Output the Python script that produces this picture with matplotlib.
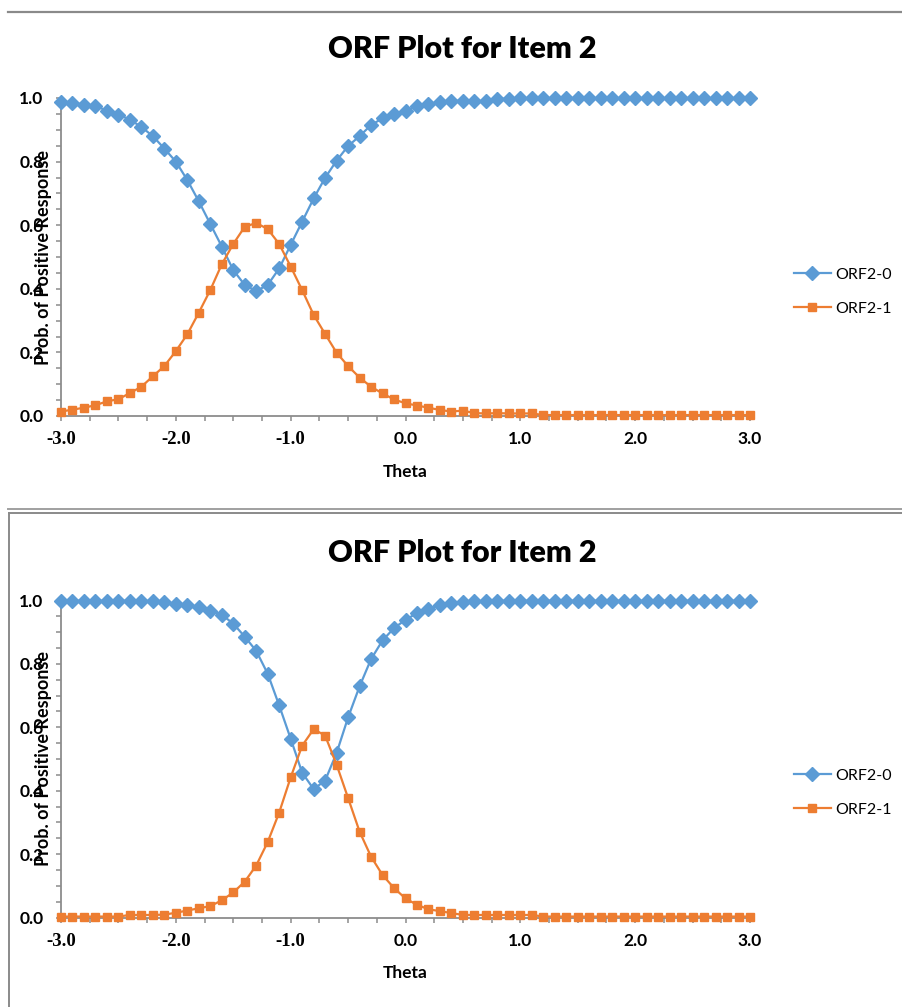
import matplotlib
matplotlib.use("Agg")
import matplotlib.pyplot as plt
from matplotlib.lines import Line2D
from matplotlib.ticker import MultipleLocator

# ---------------- data ----------------
theta = [-3.0, -2.9, -2.8, -2.7, -2.6, -2.5, -2.4, -2.3, -2.2, -2.1,
         -2.0, -1.9, -1.8, -1.7, -1.6, -1.5, -1.4, -1.3, -1.2, -1.1,
         -1.0, -0.9, -0.8, -0.7, -0.6, -0.5, -0.4, -0.3, -0.2, -0.1,
         0.0, 0.1, 0.2, 0.3, 0.4, 0.5, 0.6, 0.7, 0.8, 0.9,
         1.0, 1.1, 1.2, 1.3, 1.4, 1.5, 1.6, 1.7, 1.8, 1.9,
         2.0, 2.1, 2.2, 2.3, 2.4, 2.5, 2.6, 2.7, 2.8, 2.9,
         3.0]

# top chart
p1_orf0 = [0.986, 0.985, 0.979, 0.975, 0.960, 0.948, 0.932, 0.909, 0.880, 0.841,
           0.800, 0.742, 0.675, 0.604, 0.533, 0.459, 0.412, 0.393, 0.412, 0.464,
           0.538, 0.611, 0.684, 0.749, 0.803, 0.849, 0.880, 0.915, 0.936, 0.949,
           0.960, 0.975, 0.981, 0.987, 0.990, 0.992, 0.991, 0.990, 0.997, 0.998,
           0.999, 0.999, 0.999, 0.999, 0.999, 0.999, 0.999, 0.999, 0.999, 0.999,
           0.999, 0.999, 0.999, 0.999, 0.999, 0.999, 0.999, 0.999, 0.999, 0.999,
           0.999]
p1_orf1 = [0.014, 0.020, 0.026, 0.034, 0.046, 0.053, 0.072, 0.092, 0.125, 0.157,
           0.204, 0.257, 0.325, 0.396, 0.477, 0.541, 0.595, 0.607, 0.588, 0.541,
           0.470, 0.396, 0.318, 0.258, 0.199, 0.157, 0.121, 0.092, 0.071, 0.052,
           0.040, 0.033, 0.026, 0.019, 0.014, 0.017, 0.009, 0.008, 0.009, 0.008,
           0.008, 0.008, 0.003, 0.003, 0.003, 0.003, 0.003, 0.003, 0.003, 0.003,
           0.003, 0.003, 0.003, 0.003, 0.003, 0.003, 0.003, 0.003, 0.003, 0.003,
           0.003]

# bottom chart
p2_orf0 = [0.999, 0.999, 0.999, 0.999, 0.999, 0.999, 0.999, 0.999, 0.998, 0.994,
           0.990, 0.985, 0.978, 0.968, 0.955, 0.927, 0.886, 0.841, 0.769, 0.669,
           0.564, 0.457, 0.405, 0.432, 0.519, 0.631, 0.729, 0.815, 0.874, 0.913,
           0.939, 0.960, 0.973, 0.986, 0.992, 0.995, 0.997, 0.999, 0.999, 0.999,
           0.999, 0.999, 0.999, 0.999, 0.999, 0.999, 0.999, 0.999, 0.999, 0.999,
           0.999, 0.999, 0.999, 0.999, 0.999, 0.999, 0.999, 0.999, 0.999, 0.999,
           0.999]
p2_orf1 = [0.003, 0.003, 0.003, 0.003, 0.003, 0.003, 0.008, 0.008, 0.008, 0.009,
           0.015, 0.022, 0.029, 0.036, 0.054, 0.079, 0.113, 0.164, 0.238, 0.331,
           0.442, 0.542, 0.594, 0.574, 0.482, 0.377, 0.271, 0.192, 0.134, 0.093,
           0.060, 0.040, 0.026, 0.020, 0.014, 0.008, 0.008, 0.008, 0.008, 0.008,
           0.008, 0.008, 0.003, 0.003, 0.003, 0.003, 0.003, 0.003, 0.003, 0.003,
           0.003, 0.003, 0.003, 0.003, 0.003, 0.003, 0.003, 0.003, 0.003, 0.003,
           0.003]

series_names = ["ORF2-0", "ORF2-1"]
title_text = "ORF Plot for Item 2"
x_label = "Theta"
y_label = "Prob. of Positive Response"
x_ticks = [-3, -2, -1, 0, 1, 2, 3]
x_tick_labels = ["-3.0", "-2.0", "-1.0", "0.0", "1.0", "2.0", "3.0"]
y_ticks = [0.0, 0.2, 0.4, 0.6, 0.8, 1.0]
y_tick_labels = ["0.0", "0.2", "0.4", "0.6", "0.8", "1.0"]

# ---------------- style ----------------
BLUE = "#5B9BD5"
ORANGE = "#ED7D31"
GREY = "#8C8C8C"
SANS = "Lato"
SERIF = "Liberation Serif"

W, H = 902, 1007
fig = plt.figure(figsize=(W / 100, H / 100), dpi=100)
fig.patch.set_facecolor("white")


def fx(px):
    return px / W


def fy(py):
    return 1 - py / H


# frame lines
fig.add_artist(Line2D([fx(8), 1], [fy(12), fy(12)], color="#8a8a8a", lw=1.6))
fig.add_artist(Line2D([fx(8), 1], [fy(509), fy(509)], color="#a0a0a0", lw=1.4))
fig.add_artist(Line2D([fx(9), 1], [fy(513), fy(513)], color="#8a8a8a", lw=1.4))
fig.add_artist(Line2D([fx(9), fx(9)], [fy(513), 0], color="#8a8a8a", lw=1.4))

panels = [
    dict(orf0=p1_orf0, orf1=p1_orf1, top=98, bottom=416, title_y=49,
         xl_y=472, leg_y=291.5),
    dict(orf0=p2_orf0, orf1=p2_orf1, top=600.5, bottom=917.5, title_y=553,
         xl_y=973, leg_y=792.5),
]

for p in panels:
    left_px, right_px = 61, 750
    ax = fig.add_axes([fx(left_px), fy(p["bottom"]), (right_px - left_px) / W,
                       (p["bottom"] - p["top"]) / H])
    ax.set_xlim(-3, 3)
    ax.set_ylim(0, 1)
    l0, = ax.plot(theta, p["orf0"], color=BLUE, lw=1.6, marker="D", ms=7,
                  mec=BLUE, mfc=BLUE, clip_on=False, zorder=3)
    l1, = ax.plot(theta, p["orf1"], color=ORANGE, lw=1.6, marker="s", ms=5.8,
                  mec=ORANGE, mfc=ORANGE, clip_on=False, zorder=4)
    for s in ["top", "right"]:
        ax.spines[s].set_visible(False)
    for s in ["left", "bottom"]:
        ax.spines[s].set_color(GREY)
        ax.spines[s].set_linewidth(1.3)
    ax.set_xticks(x_ticks)
    ax.set_xticklabels(x_tick_labels)
    ax.set_yticks(y_ticks)
    ax.set_yticklabels(y_tick_labels)
    ax.xaxis.set_minor_locator(MultipleLocator(0.25))
    ax.yaxis.set_minor_locator(MultipleLocator(0.05))
    ax.tick_params(which="both", direction="out", length=3.6, width=1.1,
                   color=GREY)
    ax.tick_params(axis="x", which="major", pad=7.5)
    ax.tick_params(axis="y", which="major", pad=9)
    for lab in ax.get_xticklabels():
        if lab.get_text().startswith("-"):
            lab.set_fontfamily(SERIF)
            lab.set_fontsize(13.5)
        else:
            lab.set_fontfamily(SANS)
            lab.set_fontsize(12.5)
        lab.set_fontweight("bold")
    for lab in ax.get_yticklabels():
        lab.set_fontfamily(SANS)
        lab.set_fontsize(12.5)
        lab.set_fontweight("bold")

    fig.text(fx(462), fy(p["title_y"]), title_text, ha="center", va="center",
             fontsize=22, fontweight="heavy", family=SANS)
    fig.text(fx(405), fy(p["xl_y"]), x_label, ha="center", va="center",
             fontsize=12.5, fontweight="bold", family=SANS)
    fig.text(fx(44), fy((p["top"] + p["bottom"]) / 2), y_label, ha="center",
             va="center", rotation=90, fontsize=13, fontweight="bold",
             family=SANS)

    fig.legend([l0, l1], series_names, loc="center left",
               bbox_to_anchor=(fx(794), fy(p["leg_y"])), frameon=False,
               prop={"family": SANS, "size": 11.5}, handlelength=2.3,
               handletextpad=0.3, labelspacing=1.25, borderpad=0,
               borderaxespad=0)

fig.savefig("out.png", dpi=100, facecolor="white")
